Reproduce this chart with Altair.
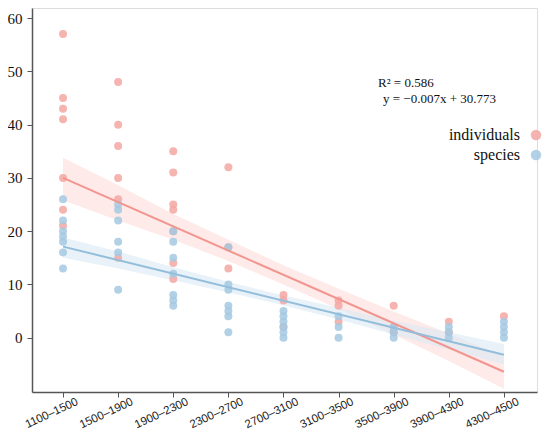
import json
import altair as alt
import pandas as pd

# ---------------- data ----------------
cats = ["1100–1500", "1500–1900", "1900–2300", "2300–2700", "2700–3100",
        "3100–3500", "3500–3900", "3900–4300", "4300–4500"]

individuals = [
    [57, 45, 43, 41, 30, 24, 21],
    [48, 40, 36, 30, 26, 15],
    [35, 31, 25, 24, 20, 14, 11],
    [32, 17, 13],
    [8, 7, 2],
    [7, 6, 3],
    [6, 2, 1],
    [3, 1],
    [4],
]
species = [
    [26, 22, 20, 19, 18, 16, 13],
    [25, 24, 22, 18, 16, 9],
    [20, 18, 15, 12, 8, 7, 6],
    [17, 10, 9, 6, 5, 4, 1],
    [5, 4, 3, 2, 1, 0],
    [4, 2, 0],
    [2, 1, 0],
    [2, 1, 0],
    [3, 2, 1, 0],
]

# fitted lines (first and last category)
ind_fit = [30.0, -6.4]
sp_fit = [17.1, -3.2]

# confidence bands at each category
ind_lo = [25.8, 22.0, 18.4, 14.4, 10.0, 5.4, 0.6, -4.4, -9.6]
ind_hi = [33.8, 28.6, 23.2, 18.4, 13.6, 9.2, 4.9, 0.8, -3.5]
sp_lo = [15.0, 13.0, 10.8, 8.5, 6.1, 3.4, 0.6, -2.2, -5.0]
sp_hi = [18.8, 16.2, 13.2, 10.5, 7.9, 5.6, 3.2, 1.0, -1.2]

r2_text = "R² = 0.586"
eq_text = "y = −0.007x + 30.773"

groups = ["individuals", "species"]
point_colors = ["#F5A7A3", "#A4C9E2"]
line_colors = ["#F2958F", "#93BEDB"]
band_colors = ["#FCDCDA", "#DAE9F4"]

# ---------------- tables ----------------
rows = []
for g, vals in zip(groups, [individuals, species]):
    for i, col in enumerate(vals):
        for v in col:
            rows.append({"group": g, "idx": i, "value": v})
pts = pd.DataFrame(rows)

fit_df = pd.DataFrame({
    "idx": [0, 8, 0, 8],
    "fit": ind_fit + sp_fit,
    "group": ["individuals"] * 2 + ["species"] * 2,
})
band_df = pd.DataFrame({
    "idx": list(range(9)) * 2,
    "lo": ind_lo + sp_lo,
    "hi": ind_hi + sp_hi,
    "group": ["individuals"] * 9 + ["species"] * 9,
})
# legend entries (pixel placement inside the plot area)
legend_df = pd.DataFrame({
    "group": groups,
    "lx": [504, 504],
    "ly": [127, 147],
})

xscale = alt.Scale(domain=[-0.563, 8.6], nice=False, zero=False)
yscale = alt.Scale(domain=[-10.2, 61.9], nice=False, zero=False)
label_expr = json.dumps(cats) + "[datum.value]"

xaxis = alt.Axis(values=list(range(9)), labelExpr=label_expr, title=None,
                 labelAngle=335, labelAlign="right", labelBaseline="middle",
                 labelOffset=14, labelPadding=4, tickSize=5,
                 labelOverlap=False, labelFlush=False, labelBound=False,
                 labelFont="Liberation Sans", labelFontSize=11.5, labelColor="#222",
                 grid=False, domainColor="#555", domainWidth=1.5, tickColor="#555")
yaxis = alt.Axis(values=[0, 10, 20, 30, 40, 50, 60], title=None, tickSize=5,
                 labelOverlap=False, labelFlush=False,
                 labelPadding=5, labelFont="Liberation Serif", labelFontSize=15,
                 labelColor="#111", grid=False, domainColor="#555", domainWidth=1.5,
                 tickColor="#555")

band_color = alt.Color("group:N", scale=alt.Scale(domain=groups, range=band_colors), legend=None)
line_color = alt.Color("group:N", scale=alt.Scale(domain=groups, range=line_colors), legend=None)
pt_color = alt.Color("group:N", scale=alt.Scale(domain=groups, range=point_colors), legend=None)

bands = alt.Chart(band_df).mark_area(opacity=0.6).encode(
    x=alt.X("idx:Q", scale=xscale, axis=xaxis),
    y=alt.Y("lo:Q", scale=yscale, axis=yaxis),
    y2="hi:Q",
    color=band_color,
    detail="group:N",
)

points = alt.Chart(pts).mark_circle(size=64, opacity=0.85).encode(
    x=alt.X("idx:Q", scale=xscale, axis=xaxis),
    y=alt.Y("value:Q", scale=yscale, axis=yaxis),
    color=pt_color,
    order=alt.Order("group:N"),
)

lines = alt.Chart(fit_df).mark_line(strokeWidth=2).encode(
    x=alt.X("idx:Q", scale=xscale, axis=xaxis),
    y=alt.Y("fit:Q", scale=yscale, axis=yaxis),
    color=line_color,
    detail="group:N",
)

leg_sym = alt.Chart(legend_df).mark_circle(size=110, opacity=0.85).encode(
    x=alt.X("lx:Q", scale=None, axis=None),
    y=alt.Y("ly:Q", scale=None, axis=None),
    color=pt_color,
)
leg_txt = alt.Chart(legend_df).mark_text(
    align="right", baseline="middle", dx=-16, font="Liberation Serif", fontSize=16, color="#111"
).encode(
    x=alt.X("lx:Q", scale=None, axis=None),
    y=alt.Y("ly:Q", scale=None, axis=None),
    text="group:N",
)

ann1 = alt.Chart(pd.DataFrame({"t": [r2_text]})).mark_text(
    align="left", baseline="middle", font="Liberation Serif", fontSize=13, color="#111"
).encode(text="t:N", x=alt.value(346), y=alt.value(75))
ann2 = alt.Chart(pd.DataFrame({"t": [eq_text]})).mark_text(
    align="left", baseline="middle", font="Liberation Serif", fontSize=13, color="#111"
).encode(text="t:N", x=alt.value(351), y=alt.value(91))

chart = alt.layer(bands, points, lines, leg_sym, leg_txt, ann1, ann2).resolve_scale(
    color="independent"
).properties(
    width=505, height=384,
    autosize=alt.AutoSizeParams(type="none"),
    padding={"left": 24, "top": 0, "right": 5, "bottom": 37},
).configure_view(stroke=None).configure(background="white")

chart.save("out.html", embed_options={"renderer": "svg", "actions": False})
